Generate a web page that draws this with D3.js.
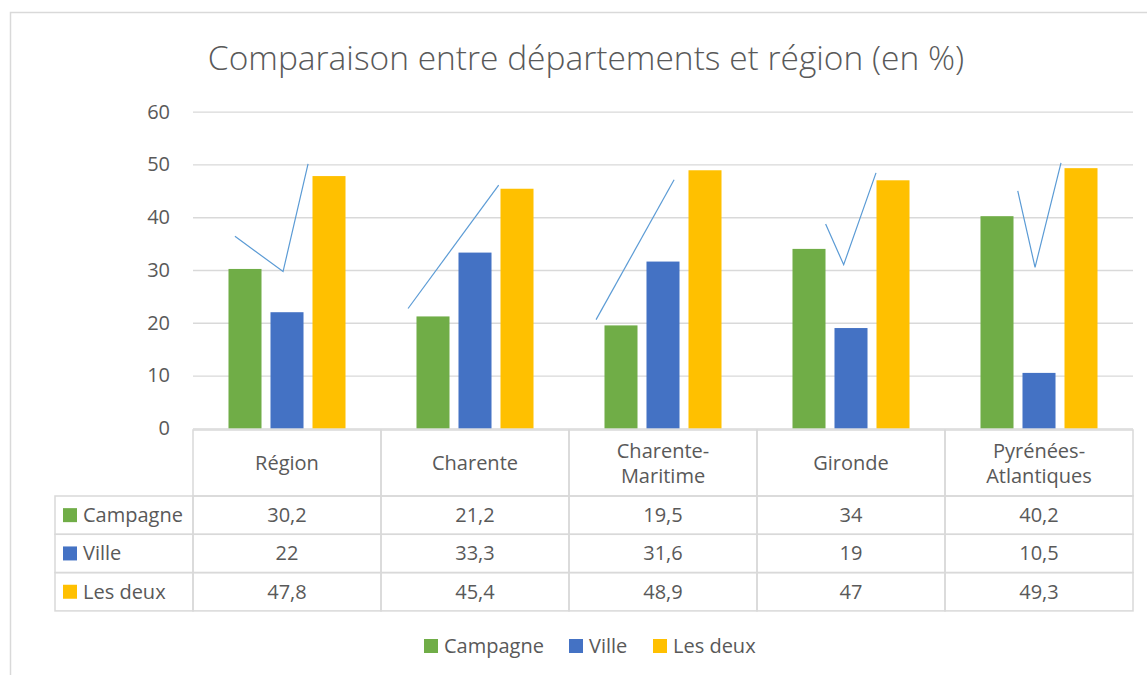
<!DOCTYPE html>
<html>
<head>
<meta charset="utf-8">
<script src="https://cdn.jsdelivr.net/npm/d3@7"></script>
<style>
  body { margin: 0; background: #fff; }
  text { font-family: "Open Sans", sans-serif; fill: #595959; }
</style>
</head>
<body>
<div id="graphique"></div>
<script>
// Donnees
const categories = ["Région", "Charente", "Charente-Maritime", "Gironde", "Pyrénées-Atlantiques"]
const series = ["Campagne", "Ville", "Les deux"]
const campagne = [30.2, 21.2, 19.5, 34, 40.2]
const ville = [22, 33.3, 31.6, 19, 10.5]
const lesDeux = [47.8, 45.4, 48.9, 47, 49.3]
const yTicks = [0, 10, 20, 30, 40, 50, 60]
const couleurs = ["#70AD47", "#4472C4", "#FFC000"]

// traits a main levee (position dans la categorie 0..1, valeur)
const traits = [
  { cat: "Région", pts: [[0.223, 36.4], [0.479, 29.7], [0.612, 50.1]] },
  { cat: "Charente", pts: [[0.144, 22.7], [0.626, 46.1]] },
  { cat: "Charente-Maritime", pts: [[0.144, 20.6], [0.559, 47.1]] },
  { cat: "Gironde", pts: [[0.365, 38.7], [0.461, 31.0], [0.633, 48.4]] },
  { cat: "Pyrénées-Atlantiques", pts: [[0.387, 45.0], [0.479, 30.5], [0.617, 50.3]] },
]

const valeurs = [campagne, ville, lesDeux]
const fmt = v => String(v).replace(".", ",")

const anchoTotal = 1147
const altoTotal = 675

const svg = d3.select("#graphique").append("svg")
  .attr("width", anchoTotal)
  .attr("height", altoTotal)

// cadre
svg.append("path")
  .attr("d", "M10.5,680 V12.5 H1150")
  .attr("fill", "none")
  .attr("stroke", "#d9d9d9")
  .attr("stroke-width", 1.5)

// Escalas
const x0 = d3.scaleBand().domain(categories).range([193, 1133])
const x1 = d3.scaleBand().domain(series).range([0, x0.bandwidth()])
  .paddingInner(0.214).paddingOuter(0.845)
const y = d3.scaleLinear().domain([0, 60]).range([428.3, 111.7])

// Titulo
svg.append("text")
  .attr("x", 586)
  .attr("y", 70)
  .attr("text-anchor", "middle")
  .attr("font-size", "33.5px")
  .attr("font-weight", 300)
  .text("Comparaison entre départements et région (en %)")

// Eje Y + grille
const ejeY = svg.append("g")
  .attr("transform", "translate(193,0)")
  .call(d3.axisLeft(y).tickValues(yTicks).tickSize(-(1133 - 193)).tickPadding(23))
ejeY.select(".domain").remove()
ejeY.selectAll(".tick line").attr("stroke", "#d9d9d9").attr("stroke-width", 1.3)
ejeY.selectAll(".tick text")
  .attr("font-size", "20px")
  .attr("font-family", "Open Sans")
  .attr("fill", "#595959")

// Barras
const grupos = svg.append("g").selectAll("g")
  .data(categories)
  .join("g")
  .attr("transform", d => `translate(${x0(d)},0)`)

grupos.selectAll("rect")
  .data((c, i) => series.map((s, j) => ({ s, v: valeurs[j][i], j })))
  .join("rect")
  .attr("x", d => x1(d.s))
  .attr("width", x1.bandwidth())
  .attr("y", d => y(d.v))
  .attr("height", d => y(0) - y(d.v))
  .attr("fill", d => couleurs[d.j])

// Traits
const ligne = d3.line()
  .x(p => p[0])
  .y(p => y(p[1]))
svg.append("g").selectAll("path")
  .data(traits)
  .join("path")
  .attr("d", t => ligne(t.pts.map(p => [x0(t.cat) + p[0] * x0.bandwidth(), p[1]])))
  .attr("fill", "none")
  .attr("stroke", "#5B9BD5")
  .attr("stroke-width", 1.2)

// Tableau de donnees
const tabla = svg.append("g")
const filaTop = 430, filaHead = 496, filaAlto = 38.3
const colIzq = 55
const gris = "#d9d9d9"

// cellules en-tete
tabla.selectAll("rect.head")
  .data(categories)
  .join("rect")
  .attr("class", "head")
  .attr("x", d => x0(d))
  .attr("y", filaTop)
  .attr("width", x0.bandwidth())
  .attr("height", filaHead - filaTop)
  .attr("fill", "none")
  .attr("stroke", gris)
  .attr("stroke-width", 1.5)

tabla.selectAll("text.head")
  .data(categories)
  .join("text")
  .attr("class", "head")
  .attr("text-anchor", "middle")
  .attr("font-size", "20px")
  .each(function (d) {
    const partes = d.split(/(?<=-)/)
    const t = d3.select(this)
    const cy = (filaTop + filaHead) / 2
    partes.forEach((p, k) => {
      t.append("tspan")
        .attr("x", x0(d) + x0.bandwidth() / 2)
        .attr("y", cy + 7 + (k - (partes.length - 1) / 2) * 25)
        .text(p)
    })
  })

series.forEach((s, j) => {
  const fy = filaHead + j * filaAlto
  const fila = tabla.append("g")
  fila.append("rect")
    .attr("x", colIzq).attr("y", fy)
    .attr("width", 193 - colIzq).attr("height", filaAlto)
    .attr("fill", "none").attr("stroke", gris).attr("stroke-width", 1.5)
  fila.append("rect")
    .attr("x", 63).attr("y", fy + filaAlto / 2 - 7)
    .attr("width", 14).attr("height", 14)
    .attr("fill", couleurs[j])
  fila.append("text")
    .attr("x", 83).attr("y", fy + filaAlto / 2 + 7)
    .attr("font-size", "20px")
    .text(s)
  fila.selectAll("rect.val")
    .data(categories)
    .join("rect")
    .attr("class", "val")
    .attr("x", d => x0(d)).attr("y", fy)
    .attr("width", x0.bandwidth()).attr("height", filaAlto)
    .attr("fill", "none").attr("stroke", gris).attr("stroke-width", 1.5)
  fila.selectAll("text.val")
    .data(categories)
    .join("text")
    .attr("class", "val")
    .attr("x", d => x0(d) + x0.bandwidth() / 2)
    .attr("y", fy + filaAlto / 2 + 7)
    .attr("text-anchor", "middle")
    .attr("font-size", "20px")
    .text((d, i) => fmt(valeurs[j][i]))
})

// Leyenda
const leyendaX = [424, 569, 653]
const leyenda = svg.append("g")
series.forEach((s, j) => {
  leyenda.append("rect")
    .attr("x", leyendaX[j]).attr("y", 639)
    .attr("width", 14).attr("height", 14)
    .attr("fill", couleurs[j])
  leyenda.append("text")
    .attr("x", leyendaX[j] + 20).attr("y", 653)
    .attr("font-size", "20px")
    .text(s)
})
</script>
</body>
</html>
